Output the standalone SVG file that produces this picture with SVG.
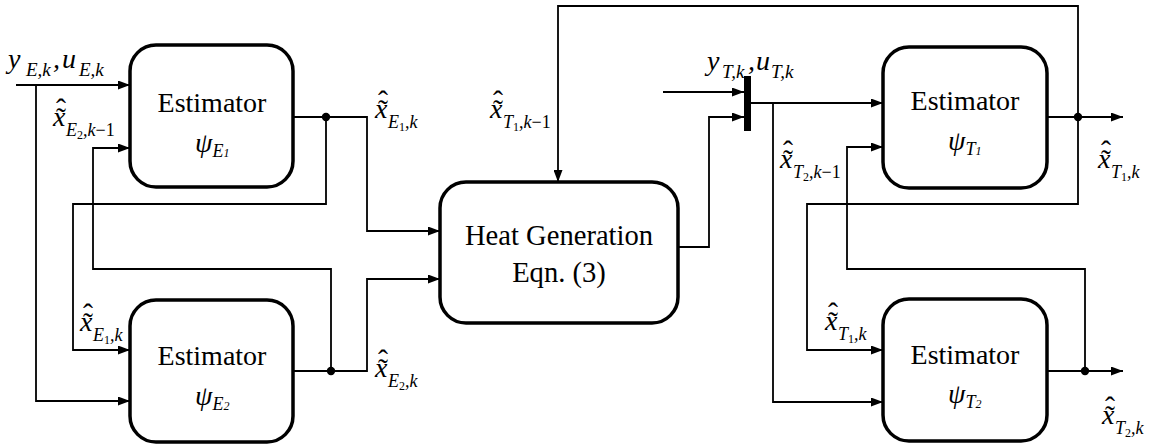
<svg xmlns="http://www.w3.org/2000/svg" width="1156" height="444" viewBox="0 0 1156 444">
<style>
.box{fill:#fff;stroke:#000;stroke-width:3.5}
.ln{fill:none;stroke:#000;stroke-width:1.8}
.arr{marker-end:url(#ah)}
.t{font-family:"Liberation Serif","Times New Roman",serif;font-size:28px;fill:#000}
.m{font-family:"Liberation Serif","Times New Roman",serif;font-size:28px;font-style:italic;fill:#000}
.s{font-size:18px}
.s2{font-size:19px}
.ss{font-size:12px;font-style:normal}
.ps{font-size:18px}
.pss{font-size:12px}
.up{font-style:normal}
.acc{font-size:30px;font-style:normal}
.c{text-anchor:middle}
</style>
<defs>
<marker id="ah" markerUnits="userSpaceOnUse" markerWidth="13" markerHeight="9" refX="12" refY="4.5" orient="auto">
<path d="M0,0 L12,4.5 L0,9 z" fill="#000"/>
</marker>
</defs>
<rect width="1156" height="444" fill="#fff"/>

<g id="connectors">
<path class="ln arr" d="M16 85 H130"/>
<path class="ln arr" d="M36 85 V401 H130"/>
<path class="ln arr" d="M293 117 H367 V231 H440"/>
<path class="ln arr" d="M326 117 V204 H73 V350 H130"/>
<path class="ln arr" d="M331 371 V269 H93 V148 H130"/>
<path class="ln arr" d="M293 371 H367 V279 H440"/>
<path class="ln arr" d="M678 247 H709 V117 H744"/>
<path class="ln arr" d="M663 92 H744"/>
<path class="ln arr" d="M751 103 H883"/>
<path class="ln arr" d="M773 103 V402 H883"/>
<path class="ln arr" d="M1047 117 H1123"/>
<path class="ln arr" d="M1078 117 V6 H558 V182"/>
<path class="ln arr" d="M1078 117 V204 H807 V350 H883"/>
<path class="ln arr" d="M1047 371 H1123"/>
<path class="ln arr" d="M1085 371 V269 H847 V147 H883"/>
<rect x="744" y="76" width="7" height="55" fill="#000"/>
<circle cx="326" cy="117" r="4.2"/>
<circle cx="331" cy="371" r="4.2"/>
<circle cx="1078" cy="117" r="4.2"/>
<circle cx="1085" cy="371" r="4.2"/>
</g>

<g id="node-E1">
<rect class="box" x="130" y="45" width="163" height="142" rx="26"/>
<text class="t c" x="212" y="112">Estimator</text>
<text class="m" x="195" y="152">ψ<tspan class="ps" dy="5">E</tspan><tspan class="pss">1</tspan></text>
</g>
<g id="node-E2">
<rect class="box" x="130" y="300" width="163" height="142" rx="26"/>
<text class="t c" x="212" y="365">Estimator</text>
<text class="m" x="195" y="405">ψ<tspan class="ps" dy="5">E</tspan><tspan class="pss">2</tspan></text>
</g>
<g id="node-heat">
<rect class="box" x="440" y="182" width="238" height="141" rx="26"/>
<text class="t c" x="559" y="245" style="font-size:28.6px">Heat Generation</text>
<text class="t c" x="559" y="282" style="font-size:28.6px">Eqn. (3)</text>
</g>
<g id="node-T1">
<rect class="box" x="883" y="47" width="164" height="141" rx="26"/>
<text class="t c" x="965" y="110">Estimator</text>
<text class="m" x="948" y="150">ψ<tspan class="ps" dy="5">T</tspan><tspan class="pss">1</tspan></text>
</g>
<g id="node-T2">
<rect class="box" x="883" y="299" width="164" height="142" rx="26"/>
<text class="t c" x="965" y="364">Estimator</text>
<text class="m" x="948" y="403">ψ<tspan class="ps" dy="5">T</tspan><tspan class="pss">2</tspan></text>
</g>

<g id="labels">
<text class="m" x="8" y="68">y<tspan class="s2" x="26" dy="8">E,k</tspan><tspan x="53" dy="-8">,</tspan><tspan x="62">u</tspan><tspan class="s2" x="79" dy="8">E,k</tspan></text>
<text class="m" x="707" y="70">y<tspan class="s2" x="722" dy="8">T,k</tspan><tspan x="748" dy="-8">,</tspan><tspan x="756">u</tspan><tspan class="s2" x="771" dy="8">T,k</tspan></text>

<text class="m" x="53" y="126">x<tspan class="acc" dx="-9.4" dy="2">˜</tspan><tspan class="acc" dx="-10" dy="-9">ˆ</tspan><tspan class="s" dy="17">E</tspan><tspan class="ss" dy="3">2</tspan><tspan class="s" dy="-3">,k</tspan><tspan class="s up">−1</tspan></text>
<text class="m" x="375" y="118">x<tspan class="acc" dx="-9.4" dy="2">˜</tspan><tspan class="acc" dx="-10" dy="-9">ˆ</tspan><tspan class="s" dy="17">E</tspan><tspan class="ss" dy="3">1</tspan><tspan class="s" dy="-3">,k</tspan></text>
<text class="m" x="490" y="118">x<tspan class="acc" dx="-9.4" dy="2">˜</tspan><tspan class="acc" dx="-10" dy="-9">ˆ</tspan><tspan class="s" dy="17">T</tspan><tspan class="ss" dy="3">1</tspan><tspan class="s" dy="-3">,k</tspan><tspan class="s up">−1</tspan></text>
<text class="m" x="80" y="331">x<tspan class="acc" dx="-9.4" dy="2">˜</tspan><tspan class="acc" dx="-10" dy="-9">ˆ</tspan><tspan class="s" dy="17">E</tspan><tspan class="ss" dy="3">1</tspan><tspan class="s" dy="-3">,k</tspan></text>
<text class="m" x="375" y="377">x<tspan class="acc" dx="-9.4" dy="2">˜</tspan><tspan class="acc" dx="-10" dy="-9">ˆ</tspan><tspan class="s" dy="17">E</tspan><tspan class="ss" dy="3">2</tspan><tspan class="s" dy="-3">,k</tspan></text>
<text class="m" x="780" y="168">x<tspan class="acc" dx="-9.4" dy="2">˜</tspan><tspan class="acc" dx="-10" dy="-9">ˆ</tspan><tspan class="s" dy="17">T</tspan><tspan class="ss" dy="3">2</tspan><tspan class="s" dy="-3">,k</tspan><tspan class="s up">−1</tspan></text>
<text class="m" x="1098" y="168">x<tspan class="acc" dx="-9.4" dy="2">˜</tspan><tspan class="acc" dx="-10" dy="-9">ˆ</tspan><tspan class="s" dy="17">T</tspan><tspan class="ss" dy="3">1</tspan><tspan class="s" dy="-3">,k</tspan></text>
<text class="m" x="825" y="330">x<tspan class="acc" dx="-9.4" dy="2">˜</tspan><tspan class="acc" dx="-10" dy="-9">ˆ</tspan><tspan class="s" dy="17">T</tspan><tspan class="ss" dy="3">1</tspan><tspan class="s" dy="-3">,k</tspan></text>
<text class="m" x="1102" y="424">x<tspan class="acc" dx="-9.4" dy="2">˜</tspan><tspan class="acc" dx="-10" dy="-9">ˆ</tspan><tspan class="s" dy="17">T</tspan><tspan class="ss" dy="3">2</tspan><tspan class="s" dy="-3">,k</tspan></text>
</g>
</svg>
